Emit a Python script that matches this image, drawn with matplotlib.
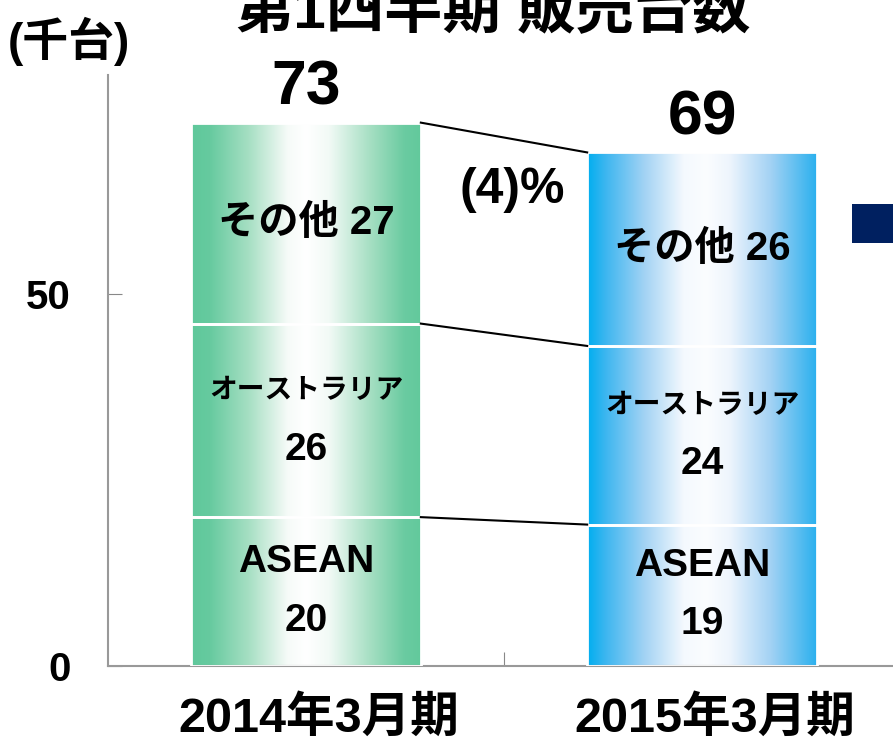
import numpy as np
import matplotlib
matplotlib.use("Agg")
import matplotlib.pyplot as plt
from matplotlib.colors import LinearSegmentedColormap
from matplotlib.patches import Rectangle

plt.rcParams['font.family'] = ['Liberation Sans', 'Noto Sans CJK JP', 'DejaVu Sans']
plt.rcParams['font.weight'] = 'bold'

# ---- data ----
categories = ["2014年3月期", "2015年3月期"]
segment_names = ["ASEAN", "オーストラリア", "その他"]
asean = [20, 19]
australia = [26, 24]
others = [27, 26]
totals = [73, 69]
change_label = "(4)%"
title = "第1四半期 販売台数"
unit_label = "(千台)"
yticks = [0, 50]

fig = plt.figure(figsize=(8.93, 7.40), dpi=100)
ax = fig.add_axes([108/893, 1-666/740, 792/893, (666-75)/740])

x = np.arange(len(categories))
width = 0.58

cmap_green = LinearSegmentedColormap.from_list(
    "g", [(0.0, "#5FC89B"), (0.08, "#66CA9F"), (0.25, "#A6DFC3"), (0.42, "#F6FBF8"),
          (0.5, "#FFFFFF"), (0.6, "#F2FAF6"), (0.78, "#A6DFC3"), (0.93, "#6ACBA1"), (1.0, "#62C99C")])
cmap_blue = LinearSegmentedColormap.from_list(
    "b", [(0.0, "#00AEEF"), (0.08, "#3DB6F0"), (0.25, "#A3D3F4"), (0.42, "#F4F9FE"),
          (0.52, "#FBFDFF"), (0.62, "#EEF5FD"), (0.8, "#A3D2F4"), (0.93, "#55BCF0"), (1.0, "#2BB0EE")])
cmaps = [cmap_green, cmap_blue]

series = [asean, australia, others]
bottoms = np.zeros(len(categories))
seg_bounds = [bottoms.copy()]
grad = np.linspace(0, 1, 256).reshape(1, -1)
for vals in series:
    bars = ax.bar(x, vals, width, bottom=bottoms, facecolor="none",
                  edgecolor="white", linewidth=2.0, zorder=3)
    for i, patch in enumerate(bars):
        x0 = patch.get_x()
        y0 = patch.get_y()
        im = ax.imshow(grad, cmap=cmaps[i], aspect="auto",
                       extent=[x0, x0 + patch.get_width(), y0, y0 + patch.get_height()],
                       zorder=2)
        im.set_clip_path(patch)
    bottoms = bottoms + np.array(vals)
    seg_bounds.append(bottoms.copy())

# connecting lines
for b in seg_bounds[1:]:
    ax.plot([x[0] + width/2, x[1] - width/2], [b[0], b[1]], color="black", lw=1.5, zorder=4)

# segment labels
fs_num = 28
half_gap = 21  # points
for i in range(len(categories)):
    lo1 = asean[i]
    lo2 = asean[i] + australia[i]
    for name, val, mid, fs_name in [(segment_names[0], asean[i], lo1/2, 28),
                                    (segment_names[1], australia[i], (lo1+lo2)/2, 20)]:
        ax.annotate(name, (x[i], mid), xytext=(0, half_gap), textcoords="offset points",
                    ha="center", va="center", fontsize=fs_name, fontweight="bold", zorder=5)
        ax.annotate(str(val), (x[i], mid), xytext=(0, -half_gap), textcoords="offset points",
                    ha="center", va="center", fontsize=fs_num, fontweight="bold", zorder=5)
    ax.text(x[i], (lo2 + totals[i])/2, f"{segment_names[2]} {others[i]}", ha="center", va="center",
            fontsize=29, fontweight="bold", zorder=5)
    ax.text(x[i], totals[i] + 4.6, f"{totals[i]}", ha="center", va="center",
            fontsize=45, fontweight="bold", zorder=5)

ax.text(0.52, 64.0, change_label, ha="center", va="center", fontsize=36, fontweight="bold")

ax.set_xlim(-0.5, 1.5)
ax.set_ylim(0, 79.4)
ax.set_yticks(yticks)
ax.set_yticklabels([str(t) for t in yticks], fontsize=29, fontweight="bold")
ax.set_xticks([0.5])
ax.set_xticklabels([""])
for i, c in enumerate(categories):
    ax.annotate(c, (x[i], 0), xytext=(9, -38), textcoords="offset points",
                ha="center", va="center", fontsize=35, fontweight="bold", annotation_clip=False)
ax.tick_params(axis="x", which="major", direction="in", length=10, color="#888888")
ax.tick_params(axis="y", direction="in", length=10, color="#888888", pad=27)
for s in ["top", "right"]:
    ax.spines[s].set_visible(False)
for s in ["left", "bottom"]:
    ax.spines[s].set_color("#999999")
    ax.spines[s].set_linewidth(1.5)

fig.text(493/893, 1 - 27/740, title, ha="center", va="baseline", fontsize=42, fontweight="bold")
fig.text(8/893, 1 - 41/740, unit_label, ha="left", va="center", fontsize=33, fontweight="bold")

fig.patches.append(Rectangle((852/893, 1 - 243/740), 45/893, 39/740,
                             transform=fig.transFigure, facecolor="#002060", edgecolor="none"))

fig.savefig("out.png", dpi=100)
